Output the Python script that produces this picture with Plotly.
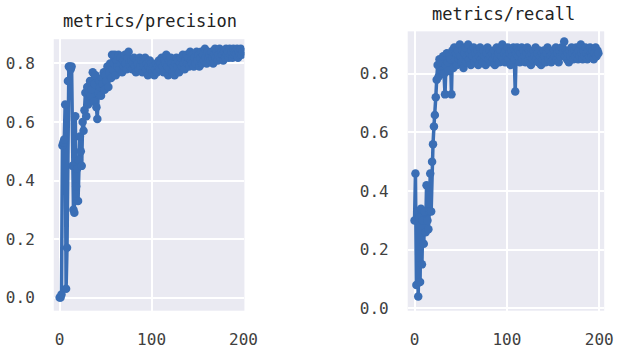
import plotly.graph_objects as go

epochs = list(range(200))

precision = [
    0.00, 0.00, 0.01, 0.52, 0.53, 0.54, 0.66, 0.03, 0.17, 0.74,
    0.79, 0.79, 0.78, 0.79, 0.45, 0.30, 0.29, 0.62, 0.38, 0.44,
    0.33, 0.47, 0.55, 0.50, 0.45, 0.60, 0.57, 0.64, 0.70, 0.62,
    0.72, 0.66, 0.70, 0.74, 0.69, 0.71, 0.77, 0.67, 0.73, 0.76,
    0.65, 0.61, 0.70, 0.74, 0.72, 0.69, 0.75, 0.73, 0.77, 0.71,
    0.76, 0.74, 0.79, 0.72, 0.77, 0.80, 0.75, 0.83, 0.78, 0.80,
    0.83, 0.76, 0.81, 0.79, 0.83, 0.78, 0.82, 0.80, 0.77, 0.81,
    0.79, 0.83, 0.80, 0.78, 0.82, 0.84, 0.80, 0.79, 0.81, 0.78,
    0.80, 0.82, 0.79, 0.77, 0.81, 0.80, 0.78, 0.82, 0.79, 0.81,
    0.77, 0.80, 0.79, 0.82, 0.78, 0.80, 0.76, 0.79, 0.81, 0.78,
    0.80, 0.77, 0.79, 0.76, 0.78, 0.80, 0.77, 0.79, 0.81, 0.78,
    0.80, 0.82, 0.79, 0.77, 0.81, 0.80, 0.83, 0.79, 0.76, 0.81,
    0.78, 0.82, 0.80, 0.77, 0.79, 0.76, 0.80, 0.82, 0.79, 0.81,
    0.77, 0.80, 0.82, 0.79, 0.83, 0.80, 0.78, 0.81, 0.83, 0.80,
    0.82, 0.79, 0.84, 0.81, 0.80, 0.83, 0.79, 0.82, 0.80, 0.84,
    0.81, 0.83, 0.79, 0.82, 0.84, 0.80, 0.83, 0.81, 0.85, 0.82,
    0.80, 0.84, 0.82, 0.83, 0.81, 0.84, 0.82, 0.80, 0.83, 0.85,
    0.82, 0.84, 0.81, 0.83, 0.85, 0.82, 0.84, 0.83, 0.81, 0.84,
    0.82, 0.85, 0.83, 0.84, 0.82, 0.85, 0.83, 0.84, 0.82, 0.85,
    0.83, 0.84, 0.83, 0.85, 0.82, 0.84, 0.83, 0.85, 0.83, 0.84,
]

recall = [
    0.30, 0.46, 0.08, 0.33, 0.04, 0.31, 0.09, 0.34, 0.15, 0.30,
    0.22, 0.33, 0.26, 0.42, 0.30, 0.27, 0.33, 0.46, 0.33, 0.50,
    0.56, 0.62, 0.66, 0.72, 0.78, 0.83, 0.79, 0.85, 0.84, 0.81,
    0.80, 0.86, 0.80, 0.73, 0.83, 0.87, 0.84, 0.81, 0.86, 0.85,
    0.73, 0.88, 0.82, 0.89, 0.85, 0.87, 0.83, 0.88, 0.85, 0.90,
    0.86, 0.84, 0.88, 0.82, 0.87, 0.89, 0.84, 0.86, 0.90, 0.85,
    0.87, 0.83, 0.88, 0.86, 0.89, 0.84, 0.87, 0.85, 0.88, 0.83,
    0.86, 0.89, 0.85, 0.87, 0.84, 0.88, 0.86, 0.83, 0.87, 0.89,
    0.85, 0.88, 0.86, 0.84, 0.87, 0.85, 0.88, 0.83, 0.86, 0.89,
    0.85, 0.87, 0.84, 0.88, 0.86, 0.90, 0.85, 0.87, 0.84, 0.88,
    0.86, 0.89, 0.85, 0.87, 0.83, 0.88, 0.86, 0.89, 0.85, 0.74,
    0.87, 0.89, 0.86, 0.88, 0.84, 0.87, 0.89, 0.85, 0.88, 0.86,
    0.84, 0.87, 0.89, 0.85, 0.88, 0.86, 0.83, 0.87, 0.85, 0.88,
    0.86, 0.89, 0.85, 0.87, 0.84, 0.88, 0.86, 0.83, 0.87, 0.85,
    0.88, 0.86, 0.84, 0.87, 0.89, 0.85, 0.88, 0.86, 0.84, 0.87,
    0.85, 0.88, 0.86, 0.89, 0.85, 0.87, 0.84, 0.88, 0.86, 0.89,
    0.87, 0.88, 0.91, 0.86, 0.88, 0.85, 0.87, 0.84, 0.88, 0.86,
    0.89, 0.87, 0.85, 0.88, 0.86, 0.89, 0.87, 0.85, 0.88, 0.86,
    0.90, 0.87, 0.85, 0.88, 0.86, 0.89, 0.87, 0.85, 0.88, 0.86,
    0.89, 0.87, 0.86, 0.88, 0.85, 0.87, 0.89, 0.86, 0.88, 0.87,
]

titles = ["metrics/precision", "metrics/recall"]
x_ticks = [0, 100, 200]
y_ticks = [0.0, 0.2, 0.4, 0.6, 0.8]

W, H = 627, 351
LINE = "#3A6EB5"
BG = "#EAEAF2"
FONT = "DejaVu Sans Mono"

fig = go.Figure()
fig.add_trace(go.Scatter(x=epochs, y=precision, mode="lines+markers",
                         line=dict(color=LINE, width=3.5),
                         marker=dict(color=LINE, size=8.5),
                         xaxis="x", yaxis="y", showlegend=False))
fig.add_trace(go.Scatter(x=epochs, y=recall, mode="lines+markers",
                         line=dict(color=LINE, width=3.5),
                         marker=dict(color=LINE, size=8.5),
                         xaxis="x2", yaxis="y2", showlegend=False))

def px(v):
    return v / W

def py(v):
    return 1 - v / H

axis_common = dict(showgrid=True, gridcolor="white", gridwidth=1.5,
                   zeroline=False, showline=False, ticks="",
                   tickfont=dict(family=FONT, size=16, color="#404040"))

fig.update_layout(
    width=W, height=H,
    margin=dict(l=0, r=0, t=0, b=0),
    paper_bgcolor="white",
    plot_bgcolor=BG,
    xaxis=dict(domain=[px(55), px(250)], range=[-6.4, 201], anchor="y",
               tickvals=x_ticks, ticklabelstandoff=17, **axis_common),
    yaxis=dict(domain=[py(317), py(40)], range=[-0.045, 0.883], anchor="x",
               tickvals=y_ticks, tickformat=".1f", ticklabelstandoff=18,
               **axis_common),
    xaxis2=dict(domain=[px(417), px(618)], range=[-7.4, 205.3], anchor="y2",
                tickvals=x_ticks, ticklabelstandoff=17, **axis_common),
    yaxis2=dict(domain=[py(317), py(32)], range=[-0.008, 0.945], anchor="x2",
                tickvals=y_ticks, tickformat=".1f", ticklabelstandoff=18,
                **axis_common),
    annotations=[
        dict(text=titles[0], x=px(153), y=py(21), xref="paper", yref="paper",
             showarrow=False, xanchor="center", yanchor="middle",
             font=dict(family=FONT, size=17, color="#222222")),
        dict(text=titles[1], x=px(515), y=py(14), xref="paper", yref="paper",
             showarrow=False, xanchor="center", yanchor="middle",
             font=dict(family=FONT, size=17, color="#222222")),
    ],
)

fig.write_html("out.html")
